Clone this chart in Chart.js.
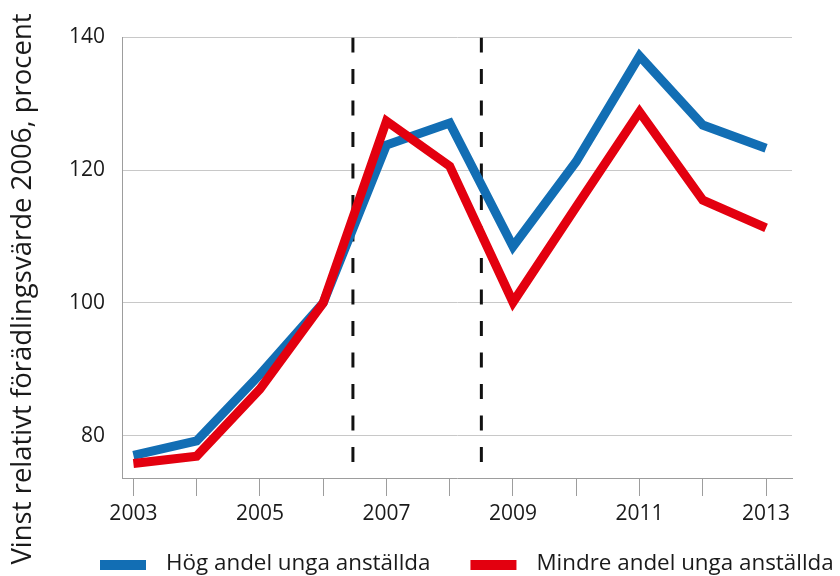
<!DOCTYPE html>
<html lang="sv">
<head>
<meta charset="UTF-8">
<title>Vinst relativt förädlingsvärde</title>
<script src="https://cdn.jsdelivr.net/npm/chart.js"></script>
<style>
  html, body { margin: 0; padding: 0; background: #fff; }
</style>
</head>
<body>
<canvas id="myChart" width="840" height="576"></canvas>
<script>
    // values
    const years = [2003, 2004, 2005, 2006, 2007, 2008, 2009, 2010, 2011, 2012, 2013];
    const hogAndel = [77.0, 79.2, 89.2, 100, 123.8, 127.1, 108.5, 121.3, 137.2, 126.8, 123.3];
    const mindreAndel = [75.8, 76.9, 87.0, 100, 127.4, 120.6, 100.1, 114.5, 128.8, 115.5, 111.3];
    const seriesNames = ['Hög andel unga anställda', 'Mindre andel unga anställda'];
    const seriesColors = ['#126eb4', '#e3000f'];
    const yTicks = [80, 100, 120, 140];
    const xLabelYears = [2003, 2005, 2007, 2009, 2011, 2013];
    const breakYears = [2006.47, 2008.5];
    const breakRange = [140, 76];
    const yTitle = 'Vinst relativt förädlingsvärde 2006, procent';

    const FONT = 'Open Sans';
    const TEXT = '#1a1a1a';
    const AXIS = '#9d9d9d';

    const toPoints = vals => vals.map((v, i) => ({ x: years[i], y: v }));

    const breakSets = breakYears.map(yr => ({
        label: '',
        data: breakRange.map(v => ({ x: yr, y: v })),
        borderColor: '#111',
        borderWidth: 3,
        borderDash: [15, 16.5],
        pointRadius: 0,
        order: 3
    }));

    // y-axis title and legend drawn on the canvas
    const extras = {
        id: 'extras',
        afterDraw(chart) {
            const ctx = chart.ctx;
            ctx.save();
            ctx.fillStyle = TEXT;
            ctx.font = '27.5px "' + FONT + '"';
            ctx.textAlign = 'center';
            ctx.textBaseline = 'middle';
            ctx.translate(23, 289);
            ctx.rotate(-Math.PI / 2);
            ctx.fillText(yTitle, 0, 0);
            ctx.restore();

            ctx.save();
            ctx.font = '22.4px "' + FONT + '"';
            ctx.textAlign = 'left';
            ctx.textBaseline = 'alphabetic';
            let x = 100;
            seriesNames.forEach(name => {
                const ds = chart.data.datasets.find(d => d.label === name);
                ctx.fillStyle = ds.borderColor;
                ctx.fillRect(x, 560, 46, 10);
                ctx.fillStyle = TEXT;
                ctx.fillText(name, x + 66, 570);
                x += 66 + ctx.measureText(name).width + 40;
            });
            ctx.restore();
        }
    };

    const ctx = document.getElementById('myChart').getContext('2d');
    const chart = new Chart(ctx, {
        type: 'line',
        data: {
            datasets: [
                {
                    label: seriesNames[0],
                    data: toPoints(hogAndel),
                    borderColor: seriesColors[0],
                    backgroundColor: seriesColors[0],
                    borderWidth: 9,
                    borderJoinStyle: 'miter',
                    borderCapStyle: 'butt',
                    pointRadius: 0,
                    order: 2
                },
                {
                    label: seriesNames[1],
                    data: toPoints(mindreAndel),
                    borderColor: seriesColors[1],
                    backgroundColor: seriesColors[1],
                    borderWidth: 9,
                    borderJoinStyle: 'miter',
                    borderCapStyle: 'butt',
                    pointRadius: 0,
                    order: 1
                },
                ...breakSets
            ]
        },
        options: {
            responsive: false,
            animation: false,
            layout: { padding: { top: 37.5, right: 48, left: 0, bottom: 0 } },
            plugins: {
                legend: { display: false },
                tooltip: { enabled: false }
            },
            scales: {
                x: {
                    type: 'linear',
                    min: 2002.82,
                    max: 2013.41,
                    afterBuildTicks: s => { s.ticks = years.map(v => ({ value: v })); },
                    afterFit: s => { s.height = 98; },
                    grid: { drawOnChartArea: false, tickLength: 18, color: AXIS },
                    border: { color: AXIS },
                    ticks: {
                        autoSkip: false,
                        maxRotation: 0,
                        padding: 5,
                        color: TEXT,
                        font: { family: FONT, size: 21 },
                        callback: v => xLabelYears.includes(v) ? String(v) : ''
                    }
                },
                y: {
                    min: 73.6,
                    max: 140,
                    afterBuildTicks: s => { s.ticks = yTicks.map(v => ({ value: v })); },
                    afterFit: s => { s.width = 122; },
                    grid: { color: '#c8c8c8', drawTicks: false },
                    border: { color: AXIS },
                    ticks: {
                        padding: 17,
                        color: TEXT,
                        font: { family: FONT, size: 21 }
                    }
                }
            }
        },
        plugins: [extras]
    });
</script>
</body>
</html>
